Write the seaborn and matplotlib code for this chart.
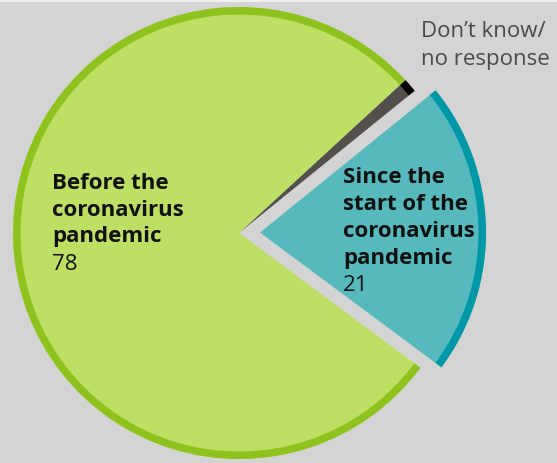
import matplotlib
matplotlib.use("Agg")
import matplotlib.pyplot as plt
import seaborn as sns

sns.set_theme(style="white")
plt.rcParams['font.family'] = ['Open Sans', 'DejaVu Sans']

# Data (counter-clockwise order starting at the lower edge of the teal slice)
categories = ["Since the start of the coronavirus pandemic",
              "Don\u2019t know/no response",
              "Before the coronavirus pandemic"]
values = [21, 1, 78]
fill_colors = ["#55b9be", "#524f4c", "#bddf64"]
ring_colors = ["#0098a7", "#000000", "#8dc21f"]
explode_px = [21, 0, 0]

W, H = 557, 463
bg = "#d4d4d4"
fig = plt.figure(figsize=(W / 100, H / 100), dpi=100, facecolor=bg)
ax = fig.add_axes([0, 0, 1, 1])
ax.set_facecolor(bg)
ax.set_xlim(0, W)
ax.set_ylim(0, H)
ax.set_aspect("equal")
ax.axis("off")

cx, cy, R = 239, H - 233, 226
start = -36.6

ax.pie(values, colors=fill_colors, startangle=start, counterclock=True,
       radius=R, center=(cx, cy), explode=explode_px,
       wedgeprops=dict(linewidth=0))
ax.pie(values, colors=ring_colors, startangle=start, counterclock=True,
       radius=R, center=(cx, cy), explode=explode_px,
       wedgeprops=dict(width=7.5, linewidth=0))
ax.set_xlim(0, W)
ax.set_ylim(0, H)

# thin light strip at the very top
ax.axhspan(H - 1.5, H, color="#f0f0f0", lw=0)

fs = 16
def line(x, ybase, s, bold=False, color="#111111"):
    ax.text(x, H - ybase, s, fontsize=fs, fontweight="bold" if bold else "normal",
            color=color, ha="left", va="baseline")

# Before the coronavirus pandemic
for i, s in enumerate(["Before the", "coronavirus", "pandemic"]):
    line(52, 189 + 26.5 * i, s, bold=True)
line(52, 189 + 26.5 * 3 + 2, str(values[2]))

# Since the start ...
for i, s in enumerate(["Since the", "start of the", "coronavirus", "pandemic"]):
    line(343, 183 + 27 * i, s, bold=True)
line(343, 183 + 27 * 4, str(values[0]))

# Don't know
line(421, 37, "Don\u2019t know/", color="#4a4a4a")
line(421, 65, "no response", color="#4a4a4a")

fig.savefig("out.png", dpi=100, facecolor=bg)
